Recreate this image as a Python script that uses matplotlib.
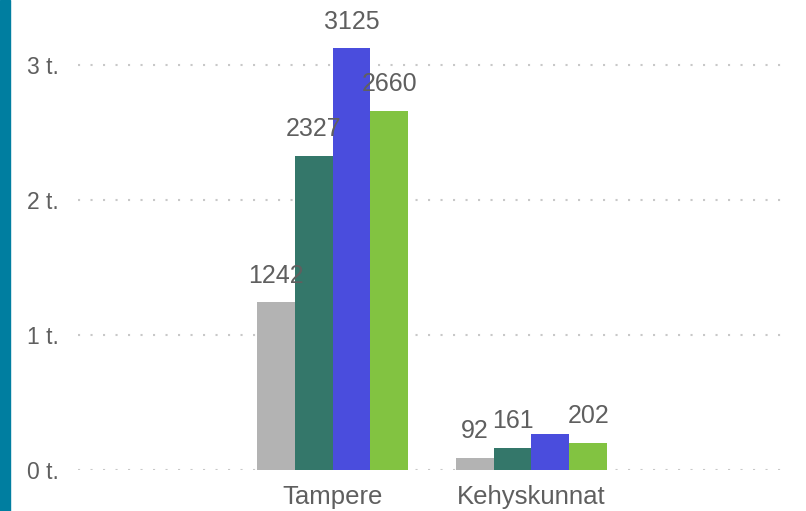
import numpy as np
import matplotlib.pyplot as plt
from matplotlib.patches import Rectangle
from matplotlib.ticker import FuncFormatter

plt.rcParams['font.family'] = ['Liberation Sans', 'DejaVu Sans']

categories = ['Tampere', 'Kehyskunnat']
series_values = [
    [1242, 92],
    [2327, 161],
    [3125, 270],
    [2660, 202],
]
# the reference hides the label of one bar
series_labels = [
    ['1242', '92'],
    ['2327', '161'],
    ['3125', None],
    ['2660', '202'],
]
colors = ['#b3b3b3', '#34776a', '#4a4ddd', '#82c341']
yticks = [0, 1000, 2000, 3000]

fig = plt.figure(figsize=(8.06, 5.11), dpi=100)
fig.patches.append(Rectangle((0, 0), 10 / 806, 1, transform=fig.transFigure,
                             color='#007ea0', zorder=0))

ax = fig.add_axes([78 / 806, 41 / 511, 712 / 806, 452 / 511])

x = np.arange(len(categories))
width = 0.19
offsets = (np.arange(len(series_values)) - 1.5) * width

for k, (vals, labs) in enumerate(zip(series_values, series_labels)):
    bars = ax.bar(x + offsets[k], vals, width, color=colors[k], zorder=2)
    for b, lab in zip(bars, labs):
        if lab is None:
            continue
        ax.text(b.get_x() + b.get_width() / 2, b.get_height() + 110, lab,
                ha='center', va='bottom', fontsize=18, color='#5f5f5f',
                zorder=3, clip_on=False)

ax.set_xlim(-1.28, 2.30)
ax.set_ylim(0, 3350)
ax.set_yticks(yticks)
ax.yaxis.set_major_formatter(FuncFormatter(lambda v, p: '%d t.' % (v / 1000)))
ax.set_xticks(x)
ax.set_xticklabels(categories)
ax.tick_params(length=0, labelsize=16.5, labelcolor='#5f5f5f')
ax.tick_params(axis='y', pad=14)
ax.tick_params(axis='x', pad=11, labelsize=18.5)
ax.grid(axis='y', color='#c8c8c8', linestyle=(0, (1, 5)), linewidth=1.5, zorder=1)
for s in ax.spines.values():
    s.set_visible(False)

fig.savefig('out.png', dpi=100)
